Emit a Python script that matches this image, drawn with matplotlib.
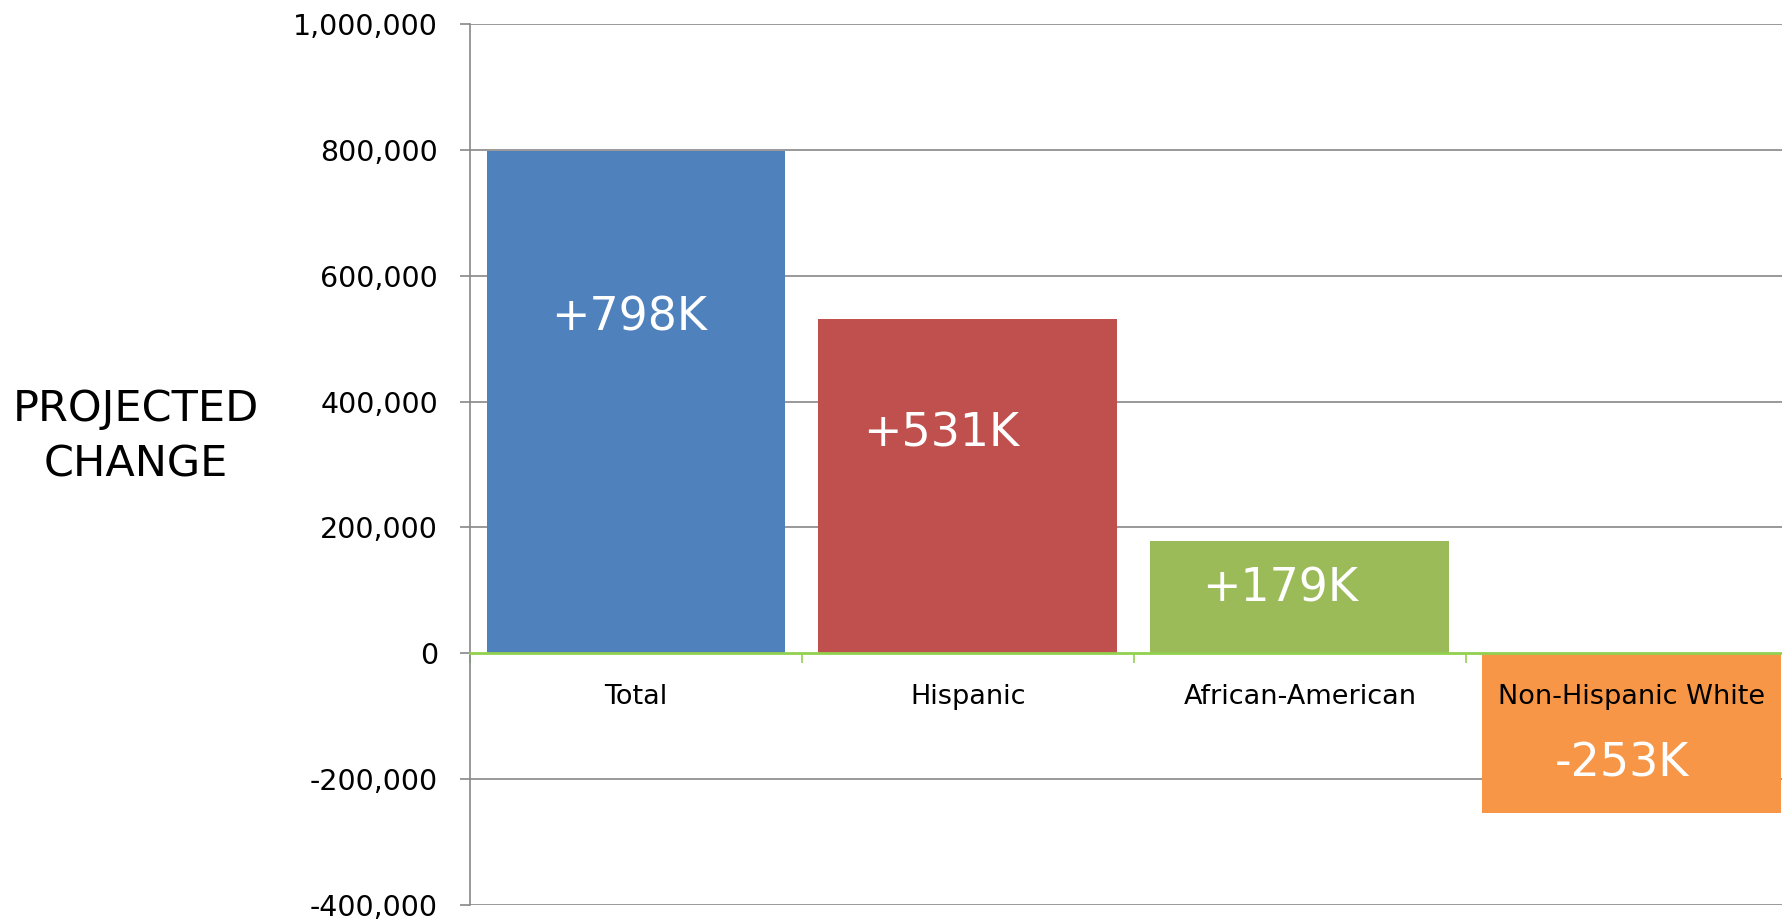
import matplotlib.pyplot as plt
from matplotlib.ticker import FuncFormatter, FixedLocator

# Projected population change by group
groups = ['Total', 'Hispanic', 'African-American', 'Non-Hispanic White']
change = [798000, 531000, 179000, -253000]
labels = ['+798K', '+531K', '+179K', '-253K']
colors = ['#4F81BD', '#C0504D', '#9BBB59', '#F79646']

# where the value labels sit (x offset from bar centre, y in data units)
label_dx = [-0.02, -0.08, -0.06, -0.03]
label_y = [533000, 348000, 102000, -176000]

fig = plt.figure(figsize=(17.82, 9.19), dpi=100)
ax = fig.add_axes([0.2637, 0.0152, 0.7452, 0.9587])

x = range(len(groups))
ax.bar(x, change, width=0.9, color=colors, zorder=1)

for i, (lab, dx, y) in enumerate(zip(labels, label_dx, label_y)):
    ax.text(i + dx, y, lab, color='white', fontsize=33, ha='center', va='center', zorder=3)

ax.set_xlim(-0.5, 3.5)
ax.set_ylim(-400000, 1000000)
yticks = list(range(-400000, 1000001, 200000))
ax.set_yticks(yticks)
ax.yaxis.set_major_formatter(FuncFormatter(lambda v, p: f'{int(v):,}'))

# horizontal gridlines behind the bars
for v in yticks:
    if v != 0:
        ax.axhline(v, color='#888888', lw=1.2, zorder=0)

for side in ['top', 'right']:
    ax.spines[side].set_visible(False)
ax.spines['left'].set_color('#888888')
ax.spines['left'].set_linewidth(1.2)
ax.spines['bottom'].set_position(('data', 0))
ax.spines['bottom'].set_color('#92D050')
ax.spines['bottom'].set_linewidth(2)

ax.set_xticks(list(x))
ax.set_xticklabels(groups, fontsize=19.5)
ax.xaxis.set_minor_locator(FixedLocator([-0.5, 0.5, 1.5, 2.5, 3.5]))
ax.tick_params(axis='x', which='major', length=0, pad=22)
ax.tick_params(axis='x', which='minor', length=7, width=1.2, color='#92D050', direction='out')
ax.tick_params(axis='y', length=7, width=1.2, color='#888888', labelsize=20.5, pad=16)

fig.text(0.0763, 0.525, 'PROJECTED\nCHANGE', fontsize=31, ha='center', va='center',
         linespacing=1.4)

fig.savefig('out.png', dpi=100)
